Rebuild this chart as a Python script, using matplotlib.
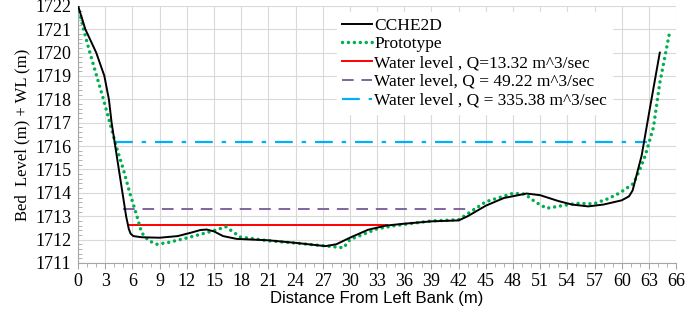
import numpy as np
import matplotlib.pyplot as plt
from matplotlib.ticker import MultipleLocator

# CCHE2D simulated bed profile
cche_x = [0, 0.8, 2.0, 2.9, 3.4, 3.7, 4.1, 4.5, 4.9, 5.3, 5.6, 5.8, 6.1, 7.0, 9.0,
          11.0, 12.5, 13.5, 14.2, 15.0, 16.0, 17.5, 21.0, 24.0, 27.3, 28.5, 30.0,
          32.0, 34.0, 36.0, 39.0, 42.0, 43.0, 45.0, 47.0, 49.5, 51.0, 53.0, 54.5,
          56.3, 58.0, 60.0, 60.8, 61.2, 61.6, 62.2, 63.1, 64.2]
cche_y = [1722.0, 1721.0, 1720.0, 1719.0, 1718.0, 1717.0, 1716.0, 1715.0, 1714.0,
          1713.0, 1712.45, 1712.25, 1712.15, 1712.1, 1712.08, 1712.15, 1712.3,
          1712.41, 1712.43, 1712.35, 1712.15, 1712.03, 1711.97, 1711.86, 1711.72,
          1711.8, 1712.08, 1712.42, 1712.6, 1712.68, 1712.78, 1712.82, 1713.0,
          1713.45, 1713.78, 1713.97, 1713.9, 1713.65, 1713.5, 1713.42, 1713.5,
          1713.68, 1713.85, 1714.1, 1714.7, 1715.6, 1717.6, 1720.0]

# Prototype (measured) bed profile
proto_x = [0, 0.6, 1.3, 2.05, 2.8, 3.5, 4.2, 5.0, 5.7, 6.5, 7.0, 7.8, 8.7, 10.0,
           12.0, 14.9, 16.3, 17.9, 21.0, 24.0, 27.0, 29.3, 30.0, 33.0, 35.0, 39.0,
           42.0, 45.0, 48.0, 49.3, 50.5, 51.7, 53.9, 55.0, 56.9, 58.5, 59.8, 61.3,
           62.0, 62.6, 63.5, 64.2, 65.3]
proto_y = [1722.0, 1721.0, 1720.0, 1719.0, 1718.0, 1717.0, 1716.0, 1715.0, 1714.0,
           1713.0, 1712.3, 1711.95, 1711.8, 1711.88, 1712.07, 1712.37, 1712.55,
           1712.11, 1711.95, 1711.85, 1711.74, 1711.65, 1712.0, 1712.46, 1712.6,
           1712.8, 1712.85, 1713.62, 1713.98, 1713.95, 1713.6, 1713.34, 1713.48,
           1713.55, 1713.53, 1713.75, 1714.0, 1714.4, 1715.0, 1715.6, 1716.8,
           1718.7, 1720.9]

# water levels: (start, end) and level
wl1_x = [5.5, 34.1]
wl1_y = [1712.61, 1712.61]
wl2_x = [5.0, 43.8]
wl2_y = [1713.31, 1713.31]
wl3_x = [4.1, 62.8]
wl3_y = [1716.18, 1716.18]

serif = 'Liberation Serif'

fig = plt.figure(figsize=(6.85, 3.09), dpi=100)
ax = fig.add_axes([0.114, 0.149, 0.873, 0.832])

ax.plot(cche_x, cche_y, '-', color='black', lw=1.4, label='CCHE2D', zorder=4)
ax.plot(proto_x, proto_y, color='#00b050', lw=2.5, dashes=(0.01, 1.7),
        dash_capstyle='round', label='Prototype', zorder=3)
ax.plot(wl1_x, wl1_y, '-', color='#ff0000', lw=1.4,
        label='Water level , Q=13.32 m^3/sec', zorder=2)
ax.plot(wl2_x, wl2_y, '--', color='#8064a2', lw=1.4, dashes=(6, 4),
        label='Water level, Q = 49.22 m^3/sec', zorder=2)
ax.plot(wl3_x, wl3_y, '-.', color='#00b0f0', lw=1.6, dashes=(8, 4, 2, 4),
        label='Water level , Q = 335.38 m^3/sec', zorder=2)

ax.set_xlim(0, 66)
ax.set_ylim(1711, 1722)
ax.xaxis.set_major_locator(MultipleLocator(3))
ax.xaxis.set_minor_locator(MultipleLocator(1))
ax.yaxis.set_major_locator(MultipleLocator(1))
ax.yaxis.set_minor_locator(MultipleLocator(0.2))
ax.grid(True, which='major', color='#d9d9d9', lw=0.8)
ax.set_axisbelow(True)

for s in ['top', 'right']:
    ax.spines[s].set_visible(False)
for s in ['left', 'bottom']:
    ax.spines[s].set_color('#a6a6a6')

ax.tick_params(axis='both', which='both', colors='#a6a6a6', labelcolor='black')
ax.tick_params(axis='x', which='major', length=4, direction='out', pad=3)
ax.tick_params(axis='x', which='minor', length=3, direction='out')
ax.tick_params(axis='y', which='major', length=0, pad=5)
ax.tick_params(axis='y', which='minor', length=3, direction='in')

for lab in ax.get_xticklabels() + ax.get_yticklabels():
    lab.set_fontfamily(serif)
    lab.set_fontsize(13)

ax.set_xlabel('Distance From Left Bank (m)', fontsize=12,
              family='Liberation Sans', labelpad=1)
ax.set_ylabel('Bed  Level (m) + WL (m)', fontsize=12, family=serif, labelpad=3)

leg = ax.legend(loc='upper left', bbox_to_anchor=(0.433, 0.975), frameon=True,
                framealpha=1, edgecolor='white', fancybox=False,
                prop={'family': serif, 'size': 12.5}, handlelength=1.7,
                handletextpad=0.15, labelspacing=0.15, borderpad=0.3,
                borderaxespad=0)

fig.savefig('out.png', dpi=100)
